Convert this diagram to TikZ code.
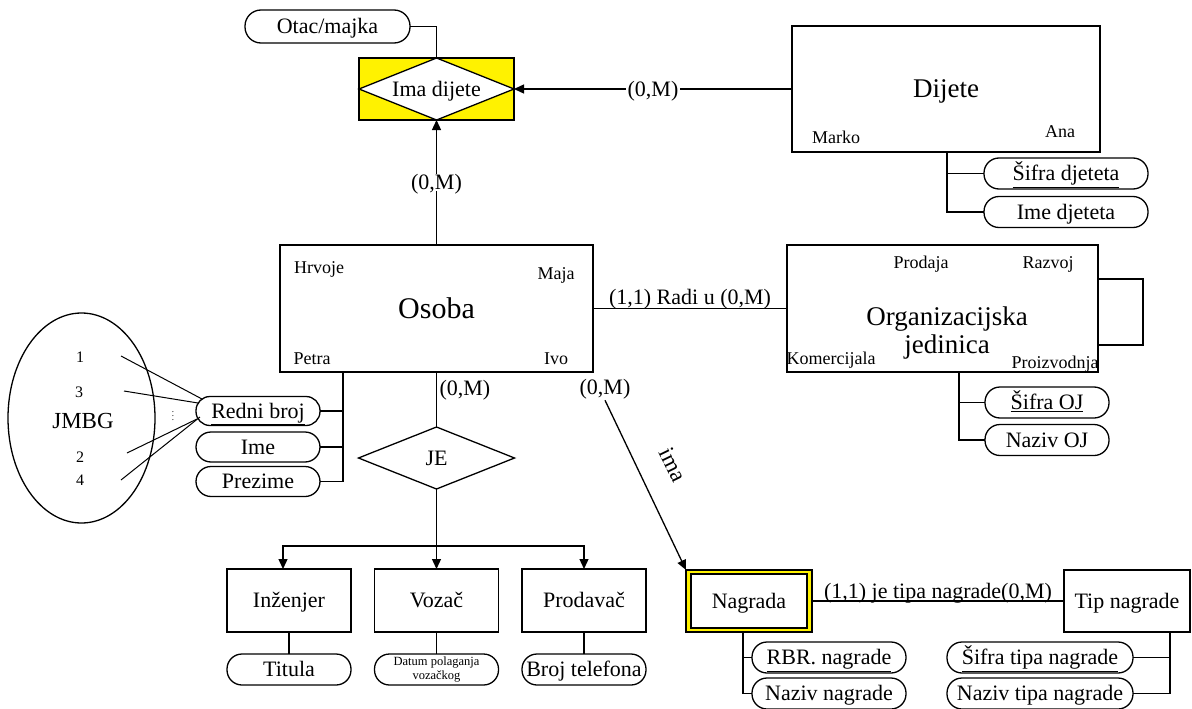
\documentclass[tikz,border=0pt]{standalone}
\usepackage{fontspec}
\setmainfont{Liberation Serif}
\usetikzlibrary{arrows.meta,calc,shapes.geometric}
\begin{document}
\begin{tikzpicture}[x=1pt,y=-1pt,line width=1.3pt,
  every node/.style={inner sep=0pt,outer sep=0pt},
  ent/.style={draw,rectangle,fill=white},
  attr/.style={draw,rectangle,rounded corners=15pt,fill=white,minimum height=31pt},
  medf/.style={font=\fontsize{22}{26}\selectfont,text height=14.5pt,text depth=0pt},
  smlf/.style={font=\fontsize{18}{21}\selectfont,anchor=base},
  numf/.style={font=\fontsize{16}{19}\selectfont,anchor=base},
  bigf/.style={font=\fontsize{27}{30}\selectfont,anchor=base},
  arr/.style={-{Triangle[length=10pt,width=9pt]}},
  lblw/.style={medf,fill=white,inner sep=1.5pt}
]
\useasboundingbox (0,0) rectangle (1192,709);

% Ima dijete
\node[draw,fill=yellow,minimum width=155,minimum height=62] (ima) at (436.5,89) {};
\draw[fill=white] (ima.north) -- (ima.east) -- (ima.south) -- (ima.west) -- cycle;
\node[medf] (imat) at (ima.center) {Ima dijete};

% Otac/majka
\node[attr,medf,minimum width=165,minimum height=33,rounded corners=16pt] (otac) at (327.5,26.5) {Otac/majka};
\draw (otac.east) -| (ima.north);

% Dijete
\node[ent,minimum width=308,minimum height=126,font=\fontsize{27}{30}\selectfont,text height=18pt,text depth=0pt] (dijete) at (946,89) {Dijete};
\node[smlf] (marko) at (836,143) {Marko};
\node[smlf] (ana) at (1060,137) {Ana};
\draw[arr] (dijete.west) -- node[lblw]{(0,M)} (ima.east);

\coordinate (dj) at (947,152);
\node[attr,medf,minimum width=164] (sd) at (1066,173.5) {\underline{Šifra djeteta}};
\node[attr,medf,minimum width=164] (idj) at (1066,212) {Ime djeteta};
\draw (dj) |- (sd.west);
\draw (dj) |- (idj.west);

% Osoba
\node[ent,minimum width=313,minimum height=127,font=\fontsize{30}{34}\selectfont,text height=20pt,text depth=0pt] (osoba) at (436.5,308.5) {Osoba};
\node[smlf] (hrv) at (319,273) {Hrvoje};
\node[smlf] (maja) at (556,279) {Maja};
\node[smlf] (petra) at (312,364) {Petra};
\node[smlf] (ivo) at (556,364) {Ivo};
\draw[arr] (osoba.north) -- node[lblw]{(0,M)} (ima.south);

% Organizacijska jedinica
\node[ent,minimum width=311,minimum height=127] (org) at (942.5,308.5) {};
\node[bigf] (orgt1) at (947,325) {Organizacijska};
\node[bigf] (orgt2) at (947,353) {jedinica};
\node[smlf] (prod) at (921,268) {Prodaja};
\node[smlf] (razv) at (1048,268) {Razvoj};
\node[smlf] (kom) at (831,364) {Komercijala};
\node[smlf] (proiz) at (1055,368) {Proizvodnja};
\draw ($(org.north east)+(0,34)$) -- ++(45,0) -- ++(0,66) -- ($(org.north east)+(0,100)$);
\draw (osoba.east) -- node[medf,anchor=base,yshift=4pt]{(1,1) Radi u (0,M)} (org.west);

\coordinate (oj) at (959,372);
\node[attr,medf,minimum width=124] (soj) at (1047,402.5) {\underline{Šifra OJ}};
\node[attr,medf,minimum width=124] (noj) at (1047,440) {Naziv OJ};
\draw (oj) |- (soj.west);
\draw (oj) |- (noj.west);

% JMBG
\node[draw,ellipse,minimum width=147,minimum height=210] (jmbg) at (81.5,418) {};
\node[font=\fontsize{23}{26}\selectfont,anchor=base] (jt) at (83,428) {JMBG};
\node[numf] (n1) at (80,362) {1};
\node[numf] (n3) at (79,397) {3};
\node[numf] (n2) at (80,462) {2};
\node[numf] (n4) at (80,485) {4};
\node (dots) at (173,413) {\fontsize{9}{9}\selectfont$\vdots$};

% Osoba attributes
\node[attr,medf,minimum width=124,minimum height=29,rounded corners=14pt] (rb) at (258,411) {\underline{Redni broj}};
\node[attr,medf,minimum width=124,minimum height=30] (ime) at (258,447) {Ime};
\node[attr,medf,minimum width=124,minimum height=30] (pz) at (258,481.5) {Prezime};
\coordinate (os) at (343,372);
\draw (os) |- (rb.east);
\draw (os) |- (ime.east);
\draw (os) |- (pz.east);

\coordinate (a1) at (121,356);
\coordinate (a3) at (124,391);
\coordinate (a2) at (127,453);
\coordinate (a4) at (121,480);
\draw[line width=1pt] (a1) -- ($(rb.west)+(6,-12)$);
\draw[line width=1pt] (a3) -- ($(rb.west)+(2,-8)$);
\draw[line width=1pt] (a2) -- ($(rb.west)+(1,8)$);
\draw[line width=1pt] (a4) -- ($(rb.west)+(4,6)$);

% JE
\node[medf,minimum width=156,minimum height=62] (je) at (436.5,458) {JE};
\draw (je.north) -- (je.east) -- (je.south) -- (je.west) -- cycle;
\draw (osoba.south) -- node[pos=0.29,medf,anchor=west,xshift=3pt]{(0,M)} (je.north);

\node[ent,medf,minimum width=124,minimum height=63] (inz) at (289,600.5) {Inženjer};
\node[ent,medf,minimum width=124,minimum height=63] (voz) at (436.5,600.5) {Vozač};
\node[ent,medf,minimum width=124,minimum height=63] (pro) at (584,600.5) {Prodavač};
\coordinate (sp) at (436.5,546);
\draw[arr] (je.south) -- (voz.north);
\draw[arr] (sp) -| ([xshift=-6pt]inz.north);
\draw[arr] (sp) -| (pro.north);

\node[attr,medf,minimum width=124] (tit) at (289,669.5) {Titula};
\node[attr,minimum width=124,align=center,font=\fontsize{12.5}{14.5}\selectfont] (dat) at (436.5,669.5) {Datum polaganja\\vozačkog};
\node[attr,medf,minimum width=124] (bt) at (584,669.5) {Broj telefona};
\draw (inz.south) -- (tit.north);
\draw (voz.south) -- (dat.north);
\draw (pro.south) -- (bt.north);

% Nagrada
\node[draw,fill=yellow,minimum width=126,minimum height=62] (nag) at (749,601) {};
\node[draw,fill=white,medf,minimum width=116,minimum height=54] (nagi) at (749,601) {Nagrada};
\node[ent,medf,minimum width=126,minimum height=62] (tip) at (1127,601) {Tip nagrade};
\draw (nag.east) -- node[medf,anchor=base,yshift=3pt]{(1,1) je tipa nagrade(0,M)} (tip.west);

\node[medf] (om3) at (605,387) {(0,M)};
\draw[arr] ($(om3.south)+(0,6)$) -- (nag.north west);
\node[font=\fontsize{23}{26}\selectfont,rotate=-64] (imal) at (673,465) {ima};

\coordinate (nj) at (743,632);
\node[attr,medf,minimum width=154] (rbr) at (829,657.5) {\underline{RBR. nagrade}};
\node[attr,medf,minimum width=154] (nn) at (829,693.5) {Naziv nagrade};
\draw (nj) |- (rbr.west);
\draw (nj) |- (nn.west);

\coordinate (tj) at (1170,632);
\node[attr,medf,minimum width=186] (st) at (1040,657.5) {\underline{Šifra tipa nagrade}};
\node[attr,medf,minimum width=186] (nt) at (1040,693.5) {Naziv tipa nagrade};
\draw (tj) |- (st.east);
\draw (tj) |- (nt.east);
\end{tikzpicture}
\end{document}
